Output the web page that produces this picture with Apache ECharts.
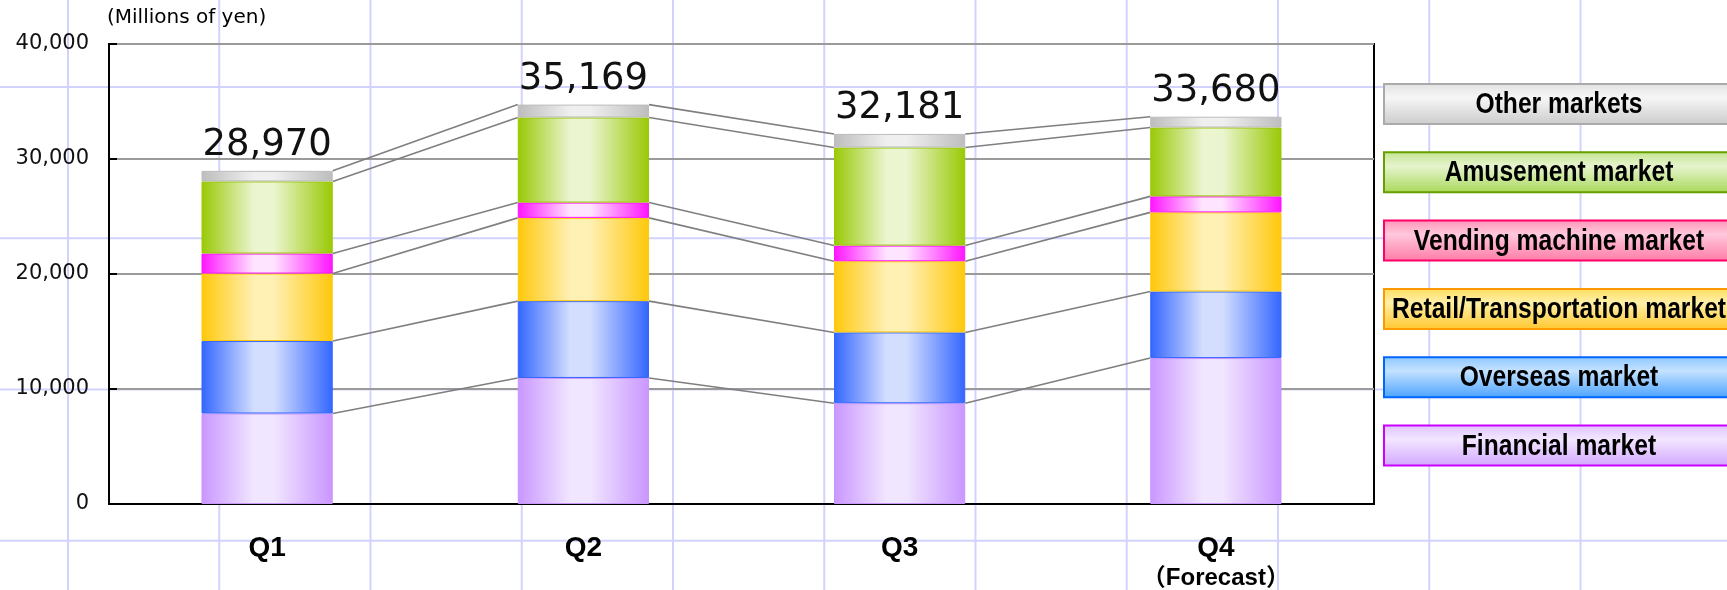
<!DOCTYPE html>
<html>
<head>
<meta charset="utf-8">
<script src="https://cdn.jsdelivr.net/npm/echarts@6/dist/echarts.min.js"></script>
<style>
  html, body { margin: 0; padding: 0; }
  #chart {
    width: 1727px;
    height: 590px;
    background-color: #fff;
    /* graph paper background */
    background-image:
      linear-gradient(to right, #d2d2ff 2px, transparent 2px),
      linear-gradient(to bottom, #d2d2ff 2px, transparent 2px);
    background-size: 151.25px 151.25px;
    background-position: 67px 86px;
  }
</style>
</head>
<body>
<div id="chart"></div>
<script>
// categories
const quarters = ["Q1", "Q2", "Q3", "Q4"];
// stacked values (millions of yen), bottom to top
const financial = [7870, 10960, 8760, 12690];
const overseas = [6300, 6680, 6160, 5790];
const retail = [5870, 7240, 6190, 6880];
const vending = [1740, 1330, 1360, 1390];
const amusement = [6270, 7400, 8530, 5990];
const other = [920, 1120, 1180, 940];
// printed totals above bars
const totals = [28970, 35169, 32181, 33680];
// y axis ticks
const yTicks = [0, 10000, 20000, 30000, 40000];

const seriesNames = [
  "Financial market",
  "Overseas market",
  "Retail/Transportation market",
  "Vending machine market",
  "Amusement market",
  "Other markets"
];
const seriesData = [financial, overseas, retail, vending, amusement, other];

// bar colours: [edge, centre]
const barColors = [
  ["#c996ff", "#f1e6ff"],
  ["#3366ff", "#d3defe"],
  ["#ffc80a", "#fff0b4"],
  ["#ff14ff", "#ffe4ff"],
  ["#99c905", "#ebf5d0"],
  ["#bdbdbd", "#efefef"]
];
// legend colours: [border, top, middle, bottom]
const legendColors = [
  ["#cc00ff", "#e0c2ff", "#f2e6ff", "#d2a6ff"],
  ["#0066ff", "#8cc6ff", "#c4e2ff", "#4aa2ff"],
  ["#ff9900", "#ffdc5c", "#fff0a8", "#ffc72e"],
  ["#ff0066", "#ff94b8", "#ffc8dc", "#ff7aa6"],
  ["#66a000", "#c2e48c", "#e6f4ce", "#a8d858"],
  ["#aaaaaa", "#e2e2e2", "#f6f6f6", "#cbcbcb"]
];

const BAR_RATIO = 0.415;

function barGradient(c) {
  return new echarts.graphic.LinearGradient(0, 0, 1, 0, [
    { offset: 0, color: c[0] },
    { offset: 0.4, color: c[1] },
    { offset: 0.55, color: c[1] },
    { offset: 1, color: c[0] }
  ]);
}

// cumulative tops for the connector lines
const cumulative = [];
let running = quarters.map(() => 0);
seriesData.forEach(arr => {
  running = running.map((v, i) => v + arr[i]);
  cumulative.push(running.slice());
});
const connectorData = [];
for (let i = 0; i < quarters.length - 1; i++) {
  cumulative.forEach(level => {
    connectorData.push([i, level[i], level[i + 1]]);
  });
}

const barSeries = seriesData.map((arr, idx) => ({
  name: seriesNames[idx],
  type: "bar",
  stack: "total",
  barWidth: BAR_RATIO * 100 + "%",
  itemStyle: {
    color: barGradient(barColors[idx]),
    borderColor: barColors[idx][0],
    borderWidth: 1
  },
  label: idx === seriesData.length - 1 ? {
    show: true,
    position: "top",
    distance: 7,
    formatter: p => totals[p.dataIndex].toLocaleString("en-US"),
    fontFamily: "DejaVu Sans",
    fontSize: 37,
    color: "#111"
  } : { show: false },
  data: arr
}));

// legend boxes, top entry is the last series
const LEGEND_X = 1384, LEGEND_TOP = 84, LEGEND_STEP = 68.3, BOX_W = 350, BOX_H = 40;
const legendElements = [];
seriesNames.slice().reverse().forEach((name, k) => {
  const idx = seriesNames.length - 1 - k;
  const c = legendColors[idx];
  const y = LEGEND_TOP + k * LEGEND_STEP;
  legendElements.push({
    type: "rect",
    shape: { x: LEGEND_X, y: y, width: BOX_W, height: BOX_H },
    style: {
      fill: new echarts.graphic.LinearGradient(0, 0, 0, 1, [
        { offset: 0, color: c[1] },
        { offset: 0.35, color: c[2] },
        { offset: 1, color: c[3] }
      ]),
      stroke: c[0],
      lineWidth: 2
    }
  });
  legendElements.push({
    type: "text",
    x: LEGEND_X + BOX_W / 2,
    y: y + BOX_H / 2 + 1,
    scaleX: 0.88,
    scaleY: 1.06,
    style: {
      text: name,
      font: 'bold 28px "Liberation Sans", Arial, sans-serif',
      fill: "#000",
      align: "center",
      verticalAlign: "middle",
      textAlign: "center",
      textVerticalAlign: "middle"
    }
  });
});

const chart = echarts.init(document.getElementById("chart"), null, { renderer: "canvas" });
chart.setOption({
  animation: false,
  grid: {
    left: 109,
    right: 353,
    top: 44,
    bottom: 85,
    show: true,
    borderColor: "#000",
    borderWidth: 2,
    backgroundColor: "transparent"
  },
  xAxis: {
    type: "category",
    data: quarters,
    axisLine: { lineStyle: { color: "#000", width: 2 } },
    axisTick: { inside: true, length: 10, lineStyle: { color: "#000", width: 2 } },
    axisLabel: {
      margin: 28,
      color: "#000",
      formatter: v => v === "Q4" ? "{q|Q4}\n{f|（Forecast）}" : "{q|" + v + "}",
      rich: {
        q: { fontFamily: '"Liberation Sans", Arial, sans-serif', fontWeight: "bold", fontSize: 28, lineHeight: 32, color: "#000" },
        f: { fontFamily: '"Liberation Sans", "Noto Sans CJK JP", sans-serif', fontWeight: "bold", fontSize: 24, lineHeight: 28, color: "#000" }
      }
    }
  },
  yAxis: {
    type: "value",
    min: yTicks[0],
    max: yTicks[yTicks.length - 1],
    interval: yTicks[1] - yTicks[0],
    name: "(Millions of yen)",
    nameLocation: "end",
    nameGap: 16,
    nameTextStyle: { align: "left", fontFamily: "DejaVu Sans", fontSize: 20, color: "#000", padding: [0, 0, 0, -2] },
    axisLine: { show: true, lineStyle: { color: "#000", width: 2 } },
    axisTick: { show: true, inside: true, length: 8, lineStyle: { color: "#000", width: 2 } },
    axisLabel: {
      margin: 20,
      fontFamily: "DejaVu Sans",
      fontSize: 21,
      color: "#111",
      formatter: v => v.toLocaleString("en-US")
    },
    splitLine: { show: true, lineStyle: { color: "#9a9a9a", width: 2 } }
  },
  series: barSeries.concat([{
    type: "custom",
    name: "connectors",
    silent: true,
    z: 1,
    renderItem: (params, api) => {
      const i = api.value(0);
      const p1 = api.coord([i, api.value(1)]);
      const p2 = api.coord([i + 1, api.value(2)]);
      const half = api.size([1, 0])[0] * BAR_RATIO / 2;
      return {
        type: "line",
        shape: { x1: p1[0] + half, y1: p1[1], x2: p2[0] - half, y2: p2[1] },
        style: { stroke: "#7f7f7f", lineWidth: 1.6 }
      };
    },
    encode: { x: 0, y: [1, 2] },
    data: connectorData
  }]),
  graphic: { elements: legendElements }
});
</script>
</body>
</html>
